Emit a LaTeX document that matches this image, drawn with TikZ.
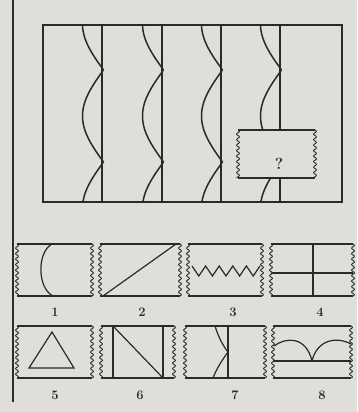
\documentclass[tikz,border=0pt]{standalone}
\definecolor{bgc}{RGB}{222,222,219}
\definecolor{ink}{RGB}{42,42,42}
\tikzset{
  mainline/.style={draw=ink, line width=1.6pt},
  waveline/.style={draw=ink, line width=1.5pt, line join=miter},
  thinline/.style={draw=ink, line width=1.2pt},
  wavyline/.style={draw=ink, line width=0.9pt},
  lbl/.style={text=ink, font=\fontsize{13}{15}\selectfont\bfseries, inner sep=0pt}
}
\newcommand{\wavyedge}[3]{\draw[wavyline] plot[domain=#2:#3, samples=90, smooth] ({#1+1.4*sin((\x-#2)*65.45)},{\x});}
\newcommand{\optbox}[4]{%
  \draw[mainline] (#1,#3) -- (#2,#3);
  \draw[mainline] (#1,#4) -- (#2,#4);
  \wavyedge{#1}{#3}{#4}
  \wavyedge{#2}{#3}{#4}}
\newcommand{\colwave}[1]{\draw[waveline] plot[domain=25:202, samples=120, smooth] ({#1+1.5-21*abs(sin((\x-70)*1.9565))},{\x});}
\begin{document}
\begin{tikzpicture}[x=1pt, y=-1pt]
\fill[bgc] (0,0) rectangle (357,412);
\useasboundingbox (0,0) rectangle (357,412);
% page edge
\draw[ink, line width=1.6pt] (13,0) -- (13,402);
% main figure
\draw[mainline] (43,25) rectangle (342,202);
\foreach \L in {102,162,221,280} {
  \draw[mainline] (\L,25) -- (\L,202);
  \colwave{\L}
}
% question box
\fill[bgc] (238,130) rectangle (315,178);
\draw[mainline] (238,130) -- (315,130);
\draw[mainline] (238,178) -- (315,178);
\wavyedge{238}{130}{178}
\wavyedge{315}{130}{178}
\node[text=ink, font=\fontsize{16}{18}\selectfont\bfseries, inner sep=0pt] (q) at (279,164) {?};
% row 1 options
\optbox{17}{92}{244}{296}
\optbox{100}{180}{244}{296}
\optbox{188}{262}{244}{296}
\optbox{271}{353}{244}{296}
% option 1
\draw[thinline] (52,244) .. controls (37,252) and (37,288) .. (53,296);
% option 2
\draw[thinline] (103,296) -- (176,244);
% option 3
\draw[thinline] (192,266) -- (198.8,276) -- (205.6,266) -- (212.4,276) -- (219.2,266) -- (226,276) -- (232.8,266) -- (239.6,276) -- (246.4,266) -- (253.2,276) -- (260,266);
% option 4
\draw[thinline] (271,273) -- (353,273);
\draw[thinline] (313,244) -- (313,296);
% row 2 options
\optbox{17}{92}{326}{378}
\optbox{101}{174}{326}{378}
\optbox{185}{265}{326}{378}
\optbox{273}{351}{326}{378}
% option 5
\draw[thinline] (52,332) -- (29,368) -- (74,368) -- cycle;
% option 6
\draw[thinline] (113,326) -- (113,378);
\draw[thinline] (113,326) -- (163,378);
\draw[thinline] (163,326) -- (163,378);
% option 7
\draw[mainline] (228,326) -- (228,378);
\draw[thinline] (215,326) .. controls (218,336) and (223,346) .. (228,352) .. controls (222,360) and (216,370) .. (213,378);
% option 8
\draw[thinline] (273,361) -- (351,361);
\draw[thinline] (274,346) .. controls (286,337) and (306,336) .. (312,361);
\draw[thinline] (312,361) .. controls (317,340) and (336,336) .. (351,344);
% labels
\node[lbl] (l1) at (55,312) {1};
\node[lbl] (l2) at (142,312) {2};
\node[lbl] (l3) at (233,312) {3};
\node[lbl] (l4) at (320,312) {4};
\node[lbl] (l5) at (55,395) {5};
\node[lbl] (l6) at (140,395) {6};
\node[lbl] (l7) at (235,395) {7};
\node[lbl] (l8) at (322,395) {8};
\end{tikzpicture}
\end{document}
